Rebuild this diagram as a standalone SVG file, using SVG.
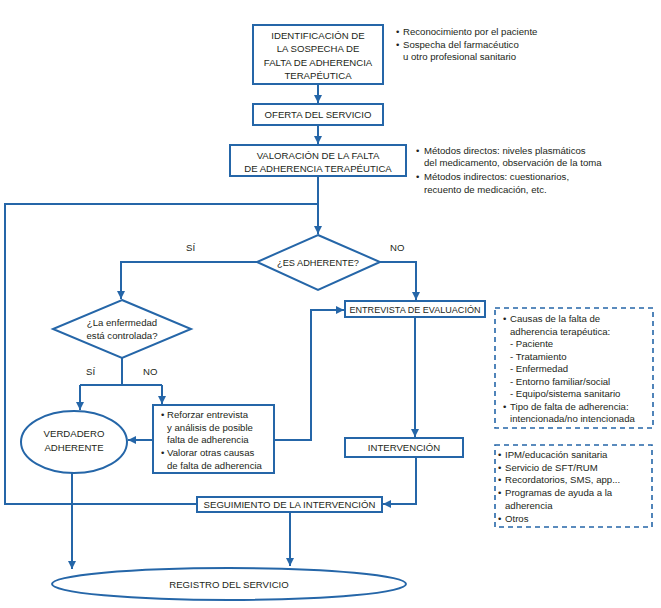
<svg xmlns="http://www.w3.org/2000/svg" width="661" height="608" viewBox="0 0 661 608">
<defs>
<style>
.box{fill:#fff;stroke:#2566a8;stroke-width:2}
.dash{fill:none;stroke:#2566a8;stroke-width:1.6;stroke-dasharray:5,4}
.ln{fill:none;stroke:#2566a8;stroke-width:2}
text{font-family:"Liberation Sans",Arial,sans-serif;fill:#231f20}
.t{font-size:9.6px;text-anchor:middle}
.s{font-size:9.6px}
</style>
<marker id="ah" markerUnits="userSpaceOnUse" markerWidth="8" markerHeight="8" refX="8" refY="4" orient="auto" viewBox="0 0 8 8">
<path d="M0,0 L8,4 L0,8 z" fill="#2566a8"/>
</marker>
</defs>
<rect width="661" height="608" fill="#fff"/>

<g id="connectors">
<path class="ln" d="M318,84 V103" marker-end="url(#ah)"/>
<path class="ln" d="M318,125 V144" marker-end="url(#ah)"/>
<path class="ln" d="M318,176 V234" marker-end="url(#ah)"/>
<path class="ln" d="M197,504 H5 V204 H318"/>
<path class="ln" d="M257,262 H121 V299" marker-end="url(#ah)"/>
<path class="ln" d="M380,262 H416 V300" marker-end="url(#ah)"/>
<path class="ln" d="M122,358 V385"/>
<path class="ln" d="M80,385 H162"/>
<path class="ln" d="M80,385 V410" marker-end="url(#ah)"/>
<path class="ln" d="M162,385 V404" marker-end="url(#ah)"/>
<path class="ln" d="M153,440 H128" marker-end="url(#ah)"/>
<path class="ln" d="M274,440 H311 V310 H344" marker-end="url(#ah)"/>
<path class="ln" d="M415,317 V437" marker-end="url(#ah)"/>
<path class="ln" d="M416,457 V504 H383" marker-end="url(#ah)"/>
<path class="ln" d="M290,512 V566" marker-end="url(#ah)"/>
<path class="ln" d="M72,473 V569" marker-end="url(#ah)"/>
<text class="s" x="186" y="250.5">SÍ</text>
<text class="s" x="390" y="250.5">NO</text>
<text class="s" x="86" y="374.5">SÍ</text>
<text class="s" x="143" y="374.5">NO</text>
</g>

<g id="identificacion">
<rect class="box" x="253" y="25" width="130" height="59"/>
<text class="t" x="318" y="38.5">IDENTIFICACIÓN DE</text>
<text class="t" x="318" y="52">LA SOSPECHA DE</text>
<text class="t" x="318" y="65.5">FALTA DE ADHERENCIA</text>
<text class="t" x="318" y="79">TERAPÉUTICA</text>
</g>
<g id="nota-identificacion">
<text class="s" x="396" y="35">•</text>
<text class="s" x="403" y="35">Reconocimiento por el paciente</text>
<text class="s" x="396" y="47.5">•</text>
<text class="s" x="403" y="47.5">Sospecha del farmacéutico</text>
<text class="s" x="403" y="59.5">u otro profesional sanitario</text>
</g>

<g id="oferta">
<rect class="box" x="253" y="104" width="130" height="21"/>
<text class="t" x="318" y="118">OFERTA DEL SERVICIO</text>
</g>

<g id="valoracion">
<rect class="box" x="230" y="145" width="176" height="31"/>
<text class="t" x="318" y="158.5">VALORACIÓN DE LA FALTA</text>
<text class="t" x="318" y="171.5">DE ADHERENCIA TERAPÉUTICA</text>
</g>
<g id="nota-valoracion">
<text class="s" x="416" y="153.5">•</text>
<text class="s" x="424" y="153.5">Métodos directos: niveles plasmáticos</text>
<text class="s" x="424" y="166">del medicamento, observación de la toma</text>
<text class="s" x="416" y="180">•</text>
<text class="s" x="424" y="180">Métodos indirectos: cuestionarios,</text>
<text class="s" x="424" y="192.5">recuento de medicación, etc.</text>
</g>

<g id="es-adherente">
<polygon class="box" points="318,235 380,262 318,290 257,262"/>
<text class="t" x="318" y="265.5" textLength="82" lengthAdjust="spacingAndGlyphs">¿ES ADHERENTE?</text>
</g>

<g id="enfermedad-controlada">
<polygon class="box" points="122,300 191,329 122,358 53,329"/>
<text class="t" x="122" y="326">¿La enfermedad</text>
<text class="t" x="122" y="338.5">está controlada?</text>
</g>

<g id="reforzar">
<rect class="box" x="153" y="405" width="121" height="68"/>
<text class="s" x="161" y="418">•</text>
<text class="s" x="167" y="418">Reforzar entrevista</text>
<text class="s" x="167" y="430.5">y análisis de posible</text>
<text class="s" x="167" y="443">falta de adherencia</text>
<text class="s" x="161" y="456">•</text>
<text class="s" x="167" y="456">Valorar otras causas</text>
<text class="s" x="167" y="468.5">de falta de adherencia</text>
</g>

<g id="verdadero-adherente">
<ellipse class="box" cx="74" cy="442" rx="53" ry="31"/>
<text class="t" x="74" y="437">VERDADERO</text>
<text class="t" x="74" y="450.5">ADHERENTE</text>
</g>

<g id="entrevista">
<rect class="box" x="345" y="301" width="140" height="16"/>
<text class="t" x="415" y="312.5" textLength="131" lengthAdjust="spacingAndGlyphs">ENTREVISTA DE EVALUACIÓN</text>
</g>
<g id="nota-entrevista">
<rect class="dash" x="495" y="308" width="158" height="120"/>
<text class="s" x="503" y="322">•</text>
<text class="s" x="510" y="322">Causas de la falta de</text>
<text class="s" x="510" y="334.5">adherencia terapéutica:</text>
<text class="s" x="510" y="347">- Paciente</text>
<text class="s" x="510" y="359.5">- Tratamiento</text>
<text class="s" x="510" y="372">- Enfermedad</text>
<text class="s" x="510" y="384.5">- Entorno familiar/social</text>
<text class="s" x="510" y="397">- Equipo/sistema sanitario</text>
<text class="s" x="503" y="409.5">•</text>
<text class="s" x="510" y="409.5">Tipo de falta de adherencia:</text>
<text class="s" x="510" y="422">intencionada/no intencionada</text>
</g>

<g id="intervencion">
<rect class="box" x="345" y="438" width="118" height="19"/>
<text class="t" x="404" y="451">INTERVENCIÓN</text>
</g>
<g id="nota-intervencion">
<rect class="dash" x="495" y="445" width="157" height="82"/>
<text class="s" x="498" y="458">•</text>
<text class="s" x="505" y="458">IPM/educación sanitaria</text>
<text class="s" x="498" y="470.5">•</text>
<text class="s" x="505" y="470.5">Servicio de SFT/RUM</text>
<text class="s" x="498" y="483">•</text>
<text class="s" x="505" y="483">Recordatorios, SMS, app...</text>
<text class="s" x="498" y="496">•</text>
<text class="s" x="505" y="496">Programas de ayuda a la</text>
<text class="s" x="505" y="509">adherencia</text>
<text class="s" x="498" y="522">•</text>
<text class="s" x="505" y="522">Otros</text>
</g>

<g id="seguimiento">
<rect class="box" x="197" y="497" width="185" height="15"/>
<text class="t" x="289.5" y="508">SEGUIMIENTO DE LA INTERVENCIÓN</text>
</g>

<g id="registro">
<ellipse class="box" cx="229" cy="584" rx="177" ry="16"/>
<text class="t" x="229" y="587.5">REGISTRO DEL SERVICIO</text>
</g>
</svg>
